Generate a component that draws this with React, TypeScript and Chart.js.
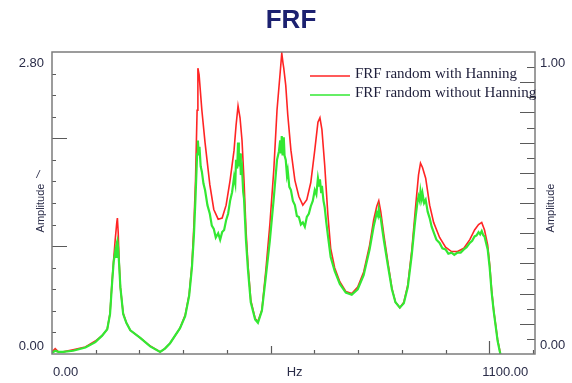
import React, { useEffect, useRef } from 'react';
import { Chart, registerables } from 'chart.js';

Chart.register(...registerables);

const titleText = 'FRF';
const legendLabels = ['FRF random with Hanning', 'FRF random without Hanning'];
const leftTickLabels = ['0.00', '2.80'];
const rightTickLabels = ['0.00', '1.00'];
const xTickLabels = ['0.00', 'Hz', '1100.00'];
const axisTitle = 'Amplitude';

const redHz = [0, 8, 16, 28, 53, 84, 109, 126, 139, 146, 151, 155, 159, 163, 164.5, 166.5, 169, 172, 179, 187, 197, 222, 247, 272, 284, 297, 322, 335, 345, 352, 357, 361, 365, 367, 370, 374, 377, 385, 397, 407, 418, 428, 438, 448, 458, 463, 468, 473, 478, 483, 488, 493, 500, 511, 518, 528, 538, 548, 558, 566, 574, 578, 581, 583, 588, 593, 601, 611, 621, 631, 641, 651, 661, 669, 674, 679, 686, 694, 701, 711, 724, 739, 754, 769, 784, 799, 809, 817, 822, 827, 835, 845, 855, 864, 875, 885, 895, 905, 915, 922, 927, 932, 940, 950, 960, 975, 990, 1005, 1020, 1036, 1051, 1063, 1073, 1081, 1088, 1096, 1101, 1106, 1111, 1116, 1121, 1126, 1128];
const redAmp = [0.02, 0.05, 0.02, 0.02, 0.04, 0.065, 0.12, 0.17, 0.23, 0.38, 0.67, 0.87, 1.06, 1.22, 1.26, 1.13, 0.85, 0.62, 0.38, 0.29, 0.22, 0.15, 0.074, 0.02, 0.05, 0.10, 0.24, 0.36, 0.55, 0.83, 1.20, 1.61, 2.26, 2.65, 2.59, 2.40, 2.26, 1.96, 1.57, 1.34, 1.25, 1.26, 1.38, 1.61, 1.89, 2.12, 2.30, 2.19, 1.98, 1.61, 1.15, 0.83, 0.50, 0.33, 0.30, 0.41, 0.78, 1.20, 1.71, 2.26, 2.61, 2.79, 2.70, 2.65, 2.49, 2.22, 1.89, 1.61, 1.46, 1.38, 1.43, 1.59, 1.89, 2.15, 2.19, 2.08, 1.75, 1.29, 0.98, 0.80, 0.67, 0.58, 0.56, 0.62, 0.76, 1.01, 1.24, 1.37, 1.42, 1.32, 1.10, 0.85, 0.61, 0.48, 0.43, 0.48, 0.64, 0.96, 1.38, 1.66, 1.77, 1.73, 1.63, 1.38, 1.22, 1.08, 0.99, 0.95, 0.95, 0.98, 1.06, 1.15, 1.20, 1.22, 1.15, 1.01, 0.83, 0.59, 0.41, 0.27, 0.13, 0.04, 0.0];

const greenHz = [0, 8, 16, 28, 53, 84, 109, 126, 139, 146, 151, 155, 159, 161, 163, 164.5, 166.5, 169, 172, 179, 187, 197, 222, 247, 272, 284, 297, 322, 335, 345, 352, 357, 361, 365, 367, 369, 371, 374, 377, 381, 385, 391, 397, 402, 407, 412, 418, 423, 428, 433, 438, 443, 448, 453, 458, 461, 463, 466, 468, 470, 473, 475, 478, 481, 483, 488, 493, 500, 511, 518, 528, 538, 548, 558, 566, 571, 574, 576, 578, 580, 583, 585, 588, 591, 593, 597, 601, 606, 611, 616, 621, 626, 631, 636, 641, 646, 651, 656, 661, 665, 669, 672, 674, 677, 679, 683, 686, 690, 694, 701, 711, 724, 739, 754, 769, 784, 799, 809, 814, 817, 820, 822, 825, 827, 831, 835, 845, 855, 864, 875, 885, 895, 905, 912, 915, 919, 922, 925, 927, 930, 932, 936, 940, 945, 950, 955, 960, 967, 975, 982, 990, 997, 1005, 1012, 1020, 1028, 1036, 1043, 1051, 1057, 1063, 1068, 1073, 1077, 1081, 1085, 1088, 1092, 1096, 1101, 1106, 1111, 1116, 1121, 1126, 1128];
const greenAmp = [0.01, 0.03, 0.02, 0.02, 0.03, 0.06, 0.11, 0.17, 0.23, 0.37, 0.65, 0.85, 0.95, 0.90, 1.03, 1.05, 0.98, 0.82, 0.62, 0.37, 0.29, 0.22, 0.15, 0.07, 0.02, 0.05, 0.10, 0.24, 0.35, 0.54, 0.80, 1.10, 1.45, 1.85, 1.98, 1.86, 1.92, 1.74, 1.69, 1.58, 1.52, 1.38, 1.30, 1.19, 1.16, 1.08, 1.12, 1.06, 1.13, 1.15, 1.24, 1.30, 1.42, 1.50, 1.64, 1.58, 1.80, 1.72, 1.96, 1.74, 1.86, 1.66, 1.72, 1.50, 1.44, 1.05, 0.78, 0.48, 0.32, 0.29, 0.40, 0.72, 1.05, 1.45, 1.80, 1.88, 1.98, 1.86, 2.02, 1.84, 2.01, 1.84, 1.80, 1.66, 1.70, 1.55, 1.52, 1.42, 1.38, 1.28, 1.27, 1.20, 1.22, 1.18, 1.27, 1.30, 1.37, 1.42, 1.52, 1.48, 1.63, 1.56, 1.62, 1.50, 1.56, 1.42, 1.36, 1.22, 1.10, 0.90, 0.77, 0.65, 0.57, 0.55, 0.60, 0.73, 0.97, 1.18, 1.26, 1.31, 1.28, 1.34, 1.27, 1.26, 1.15, 1.05, 0.82, 0.60, 0.48, 0.43, 0.47, 0.62, 0.92, 1.18, 1.28, 1.40, 1.46, 1.42, 1.51, 1.44, 1.49, 1.40, 1.43, 1.32, 1.26, 1.18, 1.13, 1.06, 1.03, 0.98, 0.97, 0.93, 0.94, 0.92, 0.94, 0.94, 0.97, 0.99, 1.03, 1.05, 1.09, 1.10, 1.13, 1.11, 1.14, 1.10, 1.09, 1.03, 0.97, 0.80, 0.57, 0.40, 0.26, 0.12, 0.03, 0.00];

const X_MAX = 1215;
const Y_MAX = 2.8;
const Y2_MAX = 1.0;
const X_MINOR_STEP = 110;
const Y_MINOR_STEP = 0.2;
const Y2_MINOR_STEP = 0.05;

const RED = '#ff2424';
const GREEN = '#33e833';
const TEXT = '#2a2c48';
const AXIS = '#7c7c7c';

const decor = {
  id: 'frfDecor',
  afterDraw(chart: any) {
    const { ctx, chartArea: a, scales } = chart;
    const xs = scales.x;
    const ys = scales.y;
    const y2 = scales.y2;
    ctx.save();

    // ticks
    ctx.strokeStyle = '#5a5a5a';
    ctx.lineWidth = 1.2;
    ctx.beginPath();
    for (let i = 1; i * Y_MINOR_STEP < Y_MAX - 1e-6; i++) {
      const v = i * Y_MINOR_STEP;
      const py = Math.round(ys.getPixelForValue(v)) + 0.5;
      const major = Math.abs(v - Math.round(v)) < 1e-6;
      ctx.moveTo(a.left, py);
      ctx.lineTo(a.left + (major ? 15 : 4), py);
    }
    for (let i = 1; i * Y2_MINOR_STEP < Y2_MAX - 1e-6; i++) {
      const v = i * Y2_MINOR_STEP;
      const py = Math.round(y2.getPixelForValue(v)) + 0.5;
      const long = i % 2 === 0;
      ctx.moveTo(a.right, py);
      ctx.lineTo(a.right - (long ? 15 : 8), py);
    }
    for (let i = 1; i * X_MINOR_STEP < X_MAX; i++) {
      const v = i * X_MINOR_STEP;
      const px = Math.round(xs.getPixelForValue(v)) + 0.5;
      const len = v === 1100 ? 13 : v === 550 ? 8 : 4;
      ctx.moveTo(px, a.bottom);
      ctx.lineTo(px, a.bottom - len);
    }
    ctx.stroke();

    // border
    ctx.strokeStyle = AXIS;
    ctx.lineWidth = 1.5;
    ctx.strokeRect(a.left, a.top, a.right - a.left, a.bottom - a.top);

    // tick labels
    ctx.fillStyle = TEXT;
    ctx.font = '13px "Liberation Sans", Arial, sans-serif';
    ctx.textBaseline = 'middle';
    ctx.textAlign = 'right';
    ctx.fillText(leftTickLabels[0], a.left - 8, ys.getPixelForValue(0) - 8);
    ctx.fillText(leftTickLabels[1], a.left - 8, ys.getPixelForValue(Y_MAX) + 11);
    ctx.textAlign = 'left';
    ctx.fillText(rightTickLabels[0], a.right + 5, y2.getPixelForValue(0) - 9);
    ctx.fillText(rightTickLabels[1], a.right + 5, y2.getPixelForValue(Y2_MAX) + 11);
    ctx.textBaseline = 'alphabetic';
    const ly = a.bottom + 22;
    ctx.textAlign = 'left';
    ctx.fillText(xTickLabels[0], xs.getPixelForValue(0) + 1, ly);
    ctx.textAlign = 'center';
    ctx.fillText(xTickLabels[1], xs.getPixelForValue(550) + 24, ly);
    ctx.fillText(xTickLabels[2], xs.getPixelForValue(1100) + 16, ly);

    // axis titles
    ctx.font = '11px "Liberation Sans", Arial, sans-serif';
    const midY = 208;
    ctx.save();
    ctx.translate(44, midY);
    ctx.rotate(-Math.PI / 2);
    ctx.textAlign = 'center';
    ctx.textBaseline = 'alphabetic';
    ctx.fillText(axisTitle, 0, 0);
    ctx.restore();
    ctx.save();
    ctx.font = 'italic 11px "Liberation Sans", Arial, sans-serif';
    ctx.textAlign = 'center';
    ctx.fillText('/', 38, 178);
    ctx.restore();
    ctx.save();
    ctx.translate(554, midY);
    ctx.rotate(-Math.PI / 2);
    ctx.textAlign = 'center';
    ctx.textBaseline = 'alphabetic';
    ctx.fillText(axisTitle, 0, 0);
    ctx.restore();

    // title
    ctx.fillStyle = '#1c2170';
    ctx.font = 'bold 26px "Liberation Sans", Arial, sans-serif';
    ctx.textAlign = 'center';
    ctx.textBaseline = 'alphabetic';
    ctx.fillText(titleText, 291, 28);

    // legend
    ctx.font = '15px "Liberation Serif", "Times New Roman", serif';
    ctx.textAlign = 'left';
    ctx.textBaseline = 'middle';
    ctx.fillStyle = '#1e1e3a';
    const lx = 310;
    const rows = [
      { y: 74, color: RED, label: legendLabels[0] },
      { y: 93, color: GREEN, label: legendLabels[1] },
    ];
    rows.forEach((r) => {
      ctx.strokeStyle = r.color;
      ctx.lineWidth = 1.3;
      ctx.beginPath();
      ctx.moveTo(lx, r.y + 2);
      ctx.lineTo(lx + 40, r.y + 2);
      ctx.stroke();
      ctx.fillText(r.label, lx + 45, r.y);
    });

    ctx.restore();
  },
};

export default function App() {
  const ref = useRef<HTMLCanvasElement | null>(null);
  useEffect(() => {
    if (!ref.current) return;
    const chart = new Chart(ref.current, {
      type: 'line',
      data: {
        datasets: [
          {
            label: legendLabels[0],
            data: redHz.map((x, i) => ({ x, y: redAmp[i] })),
            borderColor: RED,
            borderWidth: 1.6,
            pointRadius: 0,
            tension: 0,
            order: 2,
            yAxisID: 'y',
          },
          {
            label: legendLabels[1],
            data: greenHz.map((x, i) => ({ x, y: greenAmp[i] })),
            borderColor: GREEN,
            borderWidth: 2.2,
            pointRadius: 0,
            tension: 0,
            order: 1,
            yAxisID: 'y',
          },
        ],
      },
      options: {
        responsive: false,
        animation: false,
        layout: { padding: { left: 52, top: 52, right: 37, bottom: 29 } },
        plugins: { legend: { display: false }, title: { display: false }, tooltip: { enabled: false } },
        scales: {
          x: { type: 'linear', min: 0, max: X_MAX, display: false },
          y: { type: 'linear', min: 0, max: Y_MAX, display: false },
          y2: { type: 'linear', min: 0, max: Y2_MAX, display: false, position: 'right' },
        },
      },
      plugins: [decor],
    });
    return () => chart.destroy();
  }, []);
  return (
    <div style={{ position: 'fixed', left: 0, top: 0, width: 572, height: 383, background: '#fff' }}>
      <canvas ref={ref} width={572} height={383} style={{ display: 'block' }} />
    </div>
  );
}
